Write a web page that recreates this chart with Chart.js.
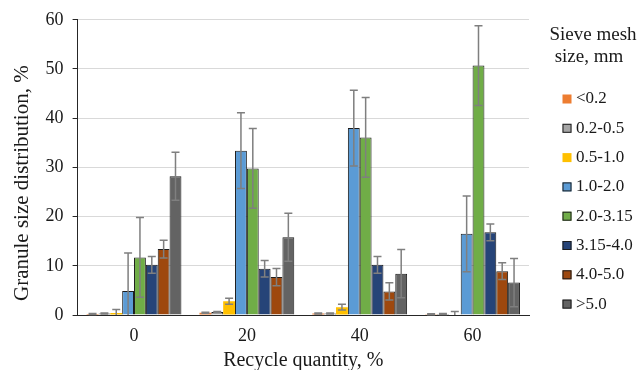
<!DOCTYPE html>
<html>
<head>
<meta charset="utf-8">
<script src="https://cdn.jsdelivr.net/npm/chart.js@4/dist/chart.umd.min.js"></script>
<style>
  html, body { margin: 0; padding: 0; background: #fff; }
  #wrap { width: 641px; height: 370px; position: relative; }
</style>
</head>
<body>
<div id="wrap"><canvas id="granules"></canvas></div>
<script>
// recycle quantity, %
const recycle = ['0', '20', '40', '60'];
const sieveSizes = ['<0.2', '0.2-0.5', '0.5-1.0', '1.0-2.0', '2.0-3.15', '3.15-4.0', '4.0-5.0', '>5.0'];

// granule size distribution, % (one array per sieve fraction)
const lt02    = [0.2, 0.45, 0.3, 0.15];
const s02_05  = [0.3, 0.6, 0.3, 0.2];
const s05_10  = [0.4, 2.8, 1.6, 0.1];
const s10_20  = [4.9, 33.4, 38.0, 16.5];
const s20_315 = [11.7, 29.8, 36.1, 50.7];
const s315_40 = [10.2, 9.4, 10.2, 16.8];
const s40_50  = [13.4, 7.7, 4.8, 8.9];
const gt50    = [28.2, 15.8, 8.4, 6.6];

// error bar half-widths
const lt02Err    = [0.1, 0.1, 0.1, 0.1];
const s02_05Err  = [0.1, 0.1, 0.1, 0.1];
const s05_10Err  = [0.7, 0.6, 0.6, 0.6];
const s10_20Err  = [7.7, 7.7, 7.7, 7.7];
const s20_315Err = [8.1, 8.1, 8.1, 8.1];
const s315_40Err = [1.7, 1.7, 1.7, 1.7];
const s40_50Err  = [1.8, 1.75, 1.75, 1.7];
const gt50Err    = [4.9, 4.9, 4.9, 4.9];

const values = [lt02, s02_05, s05_10, s10_20, s20_315, s315_40, s40_50, gt50];
const errs = [lt02Err, s02_05Err, s05_10Err, s10_20Err, s20_315Err, s315_40Err, s40_50Err, gt50Err];
const colors = ['#ed7d31', '#a5a5a5', '#ffc000', '#5b9bd5', '#70ad47', '#264478', '#9e480e', '#636363'];
const outlined = [false, true, false, true, true, true, true, true];

const serif = '"Liberation Serif", "Times New Roman", serif';

const errorBars = {
  id: 'errorBars',
  afterDatasetsDraw(chart) {
    const ctx = chart.ctx;
    const y = chart.scales.y;
    const bottom = chart.chartArea.bottom;
    ctx.save();
    ctx.strokeStyle = '#7f7f7f';
    ctx.lineWidth = 1.5;
    chart.data.datasets.forEach((ds, i) => {
      chart.getDatasetMeta(i).data.forEach((bar, j) => {
        const v = ds.data[j], e = ds.errors[j];
        const top = y.getPixelForValue(v + e);
        const lowVal = v - e;
        const bot = Math.min(y.getPixelForValue(Math.max(lowVal, 0)), bottom);
        const x = bar.x, cap = 4;
        ctx.beginPath();
        ctx.moveTo(x, top); ctx.lineTo(x, bot);
        ctx.moveTo(x - cap, top); ctx.lineTo(x + cap, top);
        if (lowVal > 0) { ctx.moveTo(x - cap, bot); ctx.lineTo(x + cap, bot); }
        ctx.stroke();
      });
    });
    ctx.restore();
  }
};

const sideLegend = {
  id: 'sideLegend',
  afterDraw(chart) {
    const ctx = chart.ctx;
    ctx.save();
    ctx.fillStyle = '#1a1a1a';
    ctx.textBaseline = 'middle';
    ctx.textAlign = 'center';
    ctx.font = '19px ' + serif;
    ctx.fillText('Sieve mesh', 593, 35);
    ctx.fillText('size, mm', 589, 57);
    ctx.font = '17px ' + serif;
    ctx.textAlign = 'left';
    chart.data.datasets.forEach((ds, i) => {
      const cy = 99 + i * 29.3;
      ctx.fillStyle = ds.backgroundColor;
      ctx.fillRect(562.5, cy - 4.5, 9, 9);
      if (ds.borderWidth) {
        ctx.strokeStyle = ds.borderColor;
        ctx.lineWidth = 1;
        ctx.strokeRect(563, cy - 4, 8, 8);
      }
      ctx.fillStyle = '#1a1a1a';
      ctx.fillText(ds.label, 576, cy);
    });
    ctx.restore();
  }
};

new Chart(document.getElementById('granules'), {
  type: 'bar',
  data: {
    labels: recycle,
    datasets: sieveSizes.map((name, i) => ({
      label: name,
      data: values[i],
      errors: errs[i],
      backgroundColor: colors[i],
      borderColor: '#1c1c1c',
      borderWidth: outlined[i] ? 1 : 0,
      categoryPercentage: 0.84,
      barPercentage: 1
    }))
  },
  options: {
    responsive: true,
    maintainAspectRatio: false,
    animation: false,
    layout: { padding: { top: 11, right: 112, left: 7.4, bottom: -3 } },
    plugins: {
      legend: { display: false },
      tooltip: { enabled: false }
    },
    scales: {
      x: {
        grid: { display: false, drawTicks: false },
        border: { color: '#262626', width: 1 },
        ticks: { color: '#1a1a1a', font: { family: serif, size: 18 }, padding: 10 },
        title: { display: true, text: 'Recycle quantity, %', color: '#1a1a1a',
                 font: { family: serif, size: 20 }, padding: { top: -7.6, bottom: 0 } }
      },
      y: {
        min: 0, max: 60,
        ticks: { stepSize: 10, color: '#1a1a1a', font: { family: serif, size: 18 }, padding: 9 },
        grid: { color: '#d9d9d9', tickColor: '#262626', tickLength: 5 },
        border: { color: '#262626', width: 1 },
        // trailing spaces nudge the centred title down, as in the original
        title: { display: true, text: 'Granule size distribution, %      ', color: '#1a1a1a',
                 font: { family: serif, size: 21 }, padding: { top: 2, bottom: 2 } }
      }
    }
  },
  plugins: [errorBars, sideLegend]
});
</script>
</body>
</html>
